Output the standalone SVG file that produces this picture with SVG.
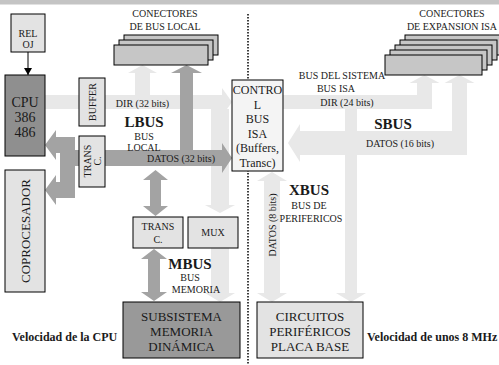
<svg xmlns="http://www.w3.org/2000/svg" width="499" height="365" viewBox="0 0 499 365">
<style>
text{font-family:"Liberation Serif","Times New Roman",serif;fill:#1a1a1a;text-anchor:middle}
.s10{font-size:10px}
.s12{font-size:12px}
.s13{font-size:13px}
.s14{font-size:14px}
.b{font-weight:bold;font-size:15px}
.vel{font-weight:bold;font-size:12px;text-anchor:start}
.pale{fill:#e8e8e8}
.dark{fill:#a3a3a3}
.bx{stroke:#000;stroke-width:1}
.lt{fill:#e3e3e3}
.card{fill:#c6c6c6;stroke:#000;stroke-width:1}
</style>
<defs>
<marker id="ah" markerWidth="8" markerHeight="8" refX="7" refY="4" orient="auto" markerUnits="userSpaceOnUse">
<path d="M0,0 L7,4 L0,8 Z" fill="#000"/>
</marker>
</defs>
<rect x="0" y="0" width="499" height="4.5" fill="#c4c4c4"/>
<line x1="248" y1="14" x2="248" y2="365" stroke="#000" stroke-width="1.5" stroke-dasharray="1.5,1.5"/>

<g id="connectors">
<!-- pale buses -->
<polygon class="pale" points="45,95 222,95 222,88 232,102 222,116 222,109 45,109"/>
<polygon class="pale" points="135,95 135,73 128,73 142.5,65 157,73 150,73 150,95"/>
<polygon class="pale" points="211,109 211,205 205,205 220,213 235,205 229,205 229,109"/>
<polygon class="pale" points="283,95 417,95 417,83 409.5,83 424.5,75 439.5,83 432,83 432,109 283,109"/>
<polygon class="pale" points="452,155 452,83 444.5,83 459.5,75 474.5,83 467,83 467,155"/>
<polygon class="pale" points="467,131 300,131 300,124 288,143 300,162 300,155 467,155"/>
<polygon class="pale" points="345,109 345,293 336,293 351,302 366,293 357,293 357,109"/>
<polygon class="pale" points="264,181 257,181 272,172 287,181 280,181 280,293 287,293 272,302 257,293 264,293"/>
<polygon class="pale" points="211,248 211,293 205,293 220,302 235,293 229,293 229,248"/>
<!-- dark buses -->
<polygon class="dark" points="60,150 222,150 222,143 232,158 222,173 222,166 60,166"/>
<rect class="dark" x="60" y="137" width="15" height="61"/>
<polygon class="dark" points="75,137 56,137 56,130 45,145 56,160 56,153 75,153"/>
<polygon class="dark" points="75,182 56,182 56,175 45,190 56,205 56,198 75,198"/>
<polygon class="dark" points="180,150 180,73 171,73 186.5,65 202,73 193,73 193,150"/>
<polygon class="dark" points="150,180 143,180 155.5,170 168,180 161,180 161,206 168,206 155.5,216 143,206 150,206"/>
<polygon class="dark" points="148,259 141,259 154,249 167,259 160,259 160,292 167,292 154,301 141,292 148,292"/>
<!-- clock -->
<line x1="28" y1="52" x2="28" y2="75" stroke="#000" stroke-width="1" marker-end="url(#ah)"/>
</g>

<g id="reloj">
<rect class="bx lt" x="11" y="14" width="34" height="38"/>
<text class="s10" x="28" y="37">REL</text>
<text class="s10" x="28" y="48">OJ</text>
</g>
<g id="cpu">
<rect class="bx" x="5" y="75" width="40" height="81" fill="#8f8f8f"/>
<text class="s14" x="25" y="107">CPU</text>
<text class="s14" x="25" y="122">386</text>
<text class="s14" x="25" y="137">486</text>
</g>
<g id="coprocesador">
<rect class="bx lt" x="5" y="170" width="40" height="122"/>
<text class="s13" transform="translate(29.5,231) rotate(-90)">COPROCESADOR</text>
</g>
<g id="buffer">
<rect class="bx lt" x="79" y="78" width="26" height="48"/>
<text class="s10" transform="translate(95.5,102) rotate(-90)">BUFFER</text>
</g>
<g id="trans1">
<rect class="bx lt" x="79" y="136" width="26" height="51"/>
<text class="s10" transform="translate(90.5,161) rotate(-90)">TRANS</text>
<text class="s10" transform="translate(101,161) rotate(-90)">C.</text>
</g>
<g id="conectores-local">
<rect class="card" x="124" y="35" width="94" height="20"/>
<rect class="card" x="119" y="40" width="94" height="20"/>
<rect class="card" x="114" y="45" width="94" height="20"/>
<text class="s10" x="165" y="17">CONECTORES</text>
<text class="s10" x="165" y="30">DE BUS LOCAL</text>
</g>
<g id="trans2">
<rect class="bx lt" x="133" y="217" width="50" height="31"/>
<text class="s10" x="158" y="230">TRANS</text>
<text class="s10" x="158" y="243">C.</text>
</g>
<g id="mux">
<rect class="bx lt" x="188" y="217" width="50" height="31"/>
<text class="s10" x="213" y="236">MUX</text>
</g>
<g id="memoria">
<rect class="bx" x="123" y="302" width="117" height="56" fill="#999"/>
<text class="s13" x="181.5" y="321">SUBSISTEMA</text>
<text class="s13" x="181.5" y="336">MEMORIA</text>
<text class="s13" x="181.5" y="351">DINÁMICA</text>
</g>
<g id="control">
<rect class="bx" x="232" y="80" width="51" height="91" fill="#f4f4f4"/>
<text class="s12" x="257.5" y="94">CONTRO</text>
<text class="s12" x="257.5" y="109">L</text>
<text class="s12" x="257.5" y="123">BUS</text>
<text class="s12" x="257.5" y="138">ISA</text>
<text class="s12" x="257.5" y="152">(Buffers,</text>
<text class="s12" x="257.5" y="167">Transc)</text>
</g>
<g id="conectores-isa">
<rect class="card" x="405" y="35" width="97" height="20"/>
<rect class="card" x="400" y="40" width="97" height="20"/>
<rect class="card" x="395" y="45" width="97" height="20"/>
<rect class="card" x="390" y="50" width="97" height="20"/>
<rect class="card" x="385" y="55" width="97" height="20"/>
<text class="s10" x="452" y="17">CONECTORES</text>
<text class="s10" x="452" y="30">DE EXPANSION ISA</text>
</g>
<g id="circuitos">
<rect class="bx lt" x="257" y="302" width="106" height="56"/>
<text class="s13" x="310" y="321">CIRCUITOS</text>
<text class="s13" x="310" y="336">PERIFÉRICOS</text>
<text class="s13" x="310" y="351">PLACA BASE</text>
</g>

<g id="labels">
<text class="s10" x="142.5" y="107">DIR (32 bits)</text>
<text class="b" x="144" y="127">LBUS</text>
<text class="s10" x="144" y="140">BUS</text>
<text class="s10" x="144" y="151">LOCAL</text>
<text class="s10" x="181" y="162">DATOS (32 bits)</text>
<text class="b" x="190" y="269">MBUS</text>
<text class="s10" x="190" y="281">BUS</text>
<text class="s10" x="196" y="293">MEMORIA</text>
<text class="s10" x="342" y="79">BUS DEL SISTEMA</text>
<text class="s10" x="336" y="92">BUS ISA</text>
<text class="s10" x="347" y="106">DIR (24 bits)</text>
<text class="b" x="393" y="129">SBUS</text>
<text class="s10" x="400" y="147">DATOS  (16 bits)</text>
<text class="b" x="309" y="195">XBUS</text>
<text class="s10" x="309" y="209">BUS DE</text>
<text class="s10" x="311" y="222">PERIFERICOS</text>
<text class="s10" transform="translate(275.5,225) rotate(-90)">DATOS  (8 bits)</text>
<text class="vel" x="12" y="341">Velocidad de la CPU</text>
<text class="vel" x="367" y="341">Velocidad de unos 8 MHz</text>
</g>
</svg>
